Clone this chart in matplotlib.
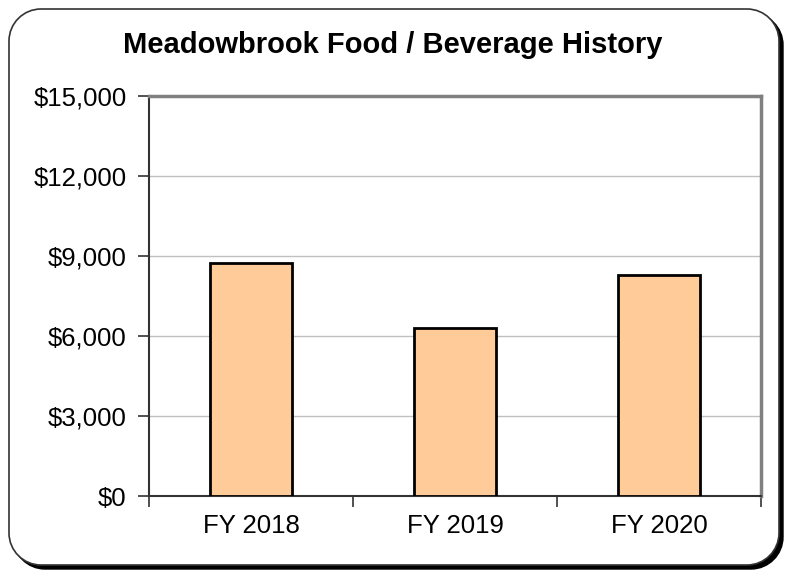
import matplotlib
matplotlib.use("Agg")
import matplotlib.pyplot as plt
from matplotlib.path import Path
from matplotlib.patches import PathPatch
from matplotlib.ticker import FuncFormatter, FixedLocator

years = ["FY 2018", "FY 2019", "FY 2020"]
sales = [8750, 6300, 8300]

plt.rcParams['font.family'] = ['Liberation Sans', 'DejaVu Sans']

W, H = 788, 572
fig = plt.figure(figsize=(W / 100, H / 100), dpi=100)


def rounded_rect(l, t, r, b, rad, dx=0, dy=0):
    # rounded rectangle given in pixels from the top-left corner
    l += dx; r += dx; t += dy; b += dy
    k = 0.5523 * rad
    verts = [
        (l + rad, t), (r - rad, t),
        (r - rad + k, t), (r, t + rad - k), (r, t + rad),
        (r, b - rad),
        (r, b - rad + k), (r - rad + k, b), (r - rad, b),
        (l + rad, b),
        (l + rad - k, b), (l, b - rad + k), (l, b - rad),
        (l, t + rad),
        (l, t + rad - k), (l + rad - k, t), (l + rad, t),
    ]
    codes = [Path.MOVETO, Path.LINETO,
             Path.CURVE4, Path.CURVE4, Path.CURVE4,
             Path.LINETO,
             Path.CURVE4, Path.CURVE4, Path.CURVE4,
             Path.LINETO,
             Path.CURVE4, Path.CURVE4, Path.CURVE4,
             Path.LINETO,
             Path.CURVE4, Path.CURVE4, Path.CURVE4]
    verts = [(x / W, 1 - y / H) for x, y in verts]
    return Path(verts, codes)


# frame with a dark shadow on the lower right
fig.patches.append(PathPatch(rounded_rect(9, 9, 779, 565, 32, 4, 4),
                             transform=fig.transFigure, facecolor="black",
                             edgecolor="black", lw=1, zorder=0))
fig.patches.append(PathPatch(rounded_rect(9, 9, 779, 565, 32),
                             transform=fig.transFigure, facecolor="white",
                             edgecolor="#333333", lw=1.2, zorder=1))

ax = fig.add_axes([149 / W, 1 - 496 / H, (761 - 149) / W, (496 - 96) / H])
ax.set_zorder(2)

x = range(len(years))
ax.bar(x, sales, width=0.4, color="#FFCC99", edgecolor="black", linewidth=2, zorder=3)

ax.set_xlim(-0.5, len(years) - 0.5)
ax.set_ylim(0, 15000)
ax.set_yticks(range(0, 15001, 3000))
ax.yaxis.set_major_formatter(FuncFormatter(lambda v, p: "${:,.0f}".format(v)))
ax.grid(axis="y", color="#c0c0c0", linewidth=1, zorder=0)

ax.set_xticks(list(x))
ax.set_xticklabels(years)
ax.xaxis.set_minor_locator(FixedLocator([-0.5, 0.5, 1.5, 2.5]))
ax.tick_params(axis="x", which="major", length=0, pad=13, labelsize=18.5)
ax.tick_params(axis="x", which="minor", length=8, width=1.2, color="#333333", direction="out")
ax.tick_params(axis="y", length=8, width=1.2, color="#333333", direction="out", pad=8, labelsize=18.5)

for side in ("left", "bottom"):
    ax.spines[side].set_color("#333333")
    ax.spines[side].set_linewidth(1.5)
for side in ("top", "right"):
    ax.spines[side].set_color("#808080")
    ax.spines[side].set_linewidth(2.5)

fig.text(393 / W, 1 - 45 / H, "Meadowbrook Food / Beverage History",
         ha="center", va="center", fontsize=21, fontweight="bold", zorder=3)

fig.savefig("out.png", dpi=100)
